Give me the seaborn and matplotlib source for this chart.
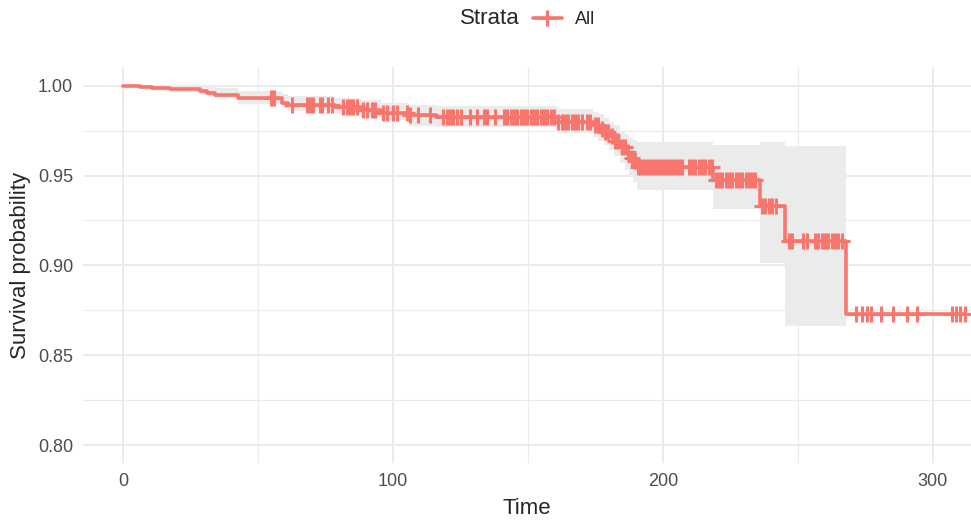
import matplotlib
matplotlib.use('Agg')

import numpy as np
import matplotlib.pyplot as plt
import seaborn as sns
from matplotlib.lines import Line2D
from matplotlib.ticker import FormatStrFormatter

# Kaplan-Meier steps (time, survival, 95% CI)
event_time = [0, 6.3, 10.7, 17.4, 28.5, 31, 34, 42.6, 59, 61, 78.5, 88, 95.5, 106, 116, 161,
              174, 176, 178, 180, 182, 184, 186, 187.5, 189, 190.5, 218.5, 236, 245.3, 267.7]
surv = [1.000, 0.9993, 0.9985, 0.9979, 0.9970, 0.9960, 0.9950, 0.9930, 0.9905, 0.9893,
        0.9880, 0.9865, 0.9847, 0.9836, 0.9825, 0.9800,
        0.9780, 0.9760, 0.9740, 0.9720, 0.9690, 0.9660, 0.9630, 0.9600, 0.9580, 0.9550,
        0.9475, 0.9330, 0.9135, 0.8730]
upper = [1.000, 1.000, 1.000, 1.000, 0.9995, 0.9990, 0.9985, 0.9970, 0.9955, 0.9945,
         0.9930, 0.9920, 0.9905, 0.9895, 0.9887, 0.9868,
         0.9855, 0.9840, 0.9820, 0.9800, 0.9780, 0.9750, 0.9730, 0.9710, 0.9695, 0.9687,
         0.9670, 0.9687, 0.9664, np.nan]
lower = [1.000, 0.9980, 0.9972, 0.9965, 0.9950, 0.9940, 0.9930, 0.9900, 0.9875, 0.9860,
         0.9840, 0.9825, 0.9810, 0.9775, 0.9768, 0.9735,
         0.9715, 0.9690, 0.9670, 0.9640, 0.9610, 0.9570, 0.9530, 0.9500, 0.9465, 0.9419,
         0.9313, 0.9013, 0.8662, np.nan]
last_time = 311.8

# censored observations
censor_time = [55.0, 56.0, 62.5, 68.0, 69.3, 70.5, 73.0, 73.6, 75.9, 77.3, 81.5, 82.9, 84.1, 85.2,
               86.6, 88.9, 90.3, 92.1, 93.3, 96.3, 97.7, 100.0, 101.4, 105.1, 106.3, 109.3,
               113.7, 118.5, 119.9, 121.1, 122.2, 123.7, 125.1, 128.5, 131.0, 133.7, 134.8,
               137.8, 141.1, 142.2, 143.6, 144.8, 145.9, 147.3, 148.5, 149.6, 151.0, 152.2,
               153.3, 154.7, 155.9, 157.0, 158.4, 159.6, 161.1, 162.5, 163.7, 164.8, 166.2,
               167.4, 168.5, 169.9, 171.7, 173.0, 174.8, 175.9, 177.3, 178.5, 179.6, 181.0,
               182.2, 183.3, 184.7, 185.9, 187.0, 188.4, 189.6, 190.7,
               191.5, 192.6, 193.7, 194.8, 195.9, 197.0, 198.1, 199.3, 200.4, 201.5, 202.6,
               203.7, 204.8, 205.9, 207.0, 209.6, 210.7, 211.9, 213.3, 214.4, 215.6, 217.0,
               218.1, 219.6, 220.7, 221.9, 223.3, 224.4, 225.6, 227.0, 228.1, 229.3, 230.7,
               231.9, 233.0, 234.1, 236.7, 237.8, 239.3, 240.4, 241.9, 246.7, 247.8, 251.9,
               253.3, 256.3, 257.4, 258.9, 260.0, 261.1, 262.6, 263.7, 264.8, 266.3,
               271.5, 273.6, 275.4, 276.9, 280.9, 285.2, 290.4, 294.1, 306.9, 308.5, 310.0, 311.8]

strata_label = 'All'
line_color = '#F8766D'

sns.set_style('white')
plt.rcParams['font.family'] = ['Liberation Sans', 'DejaVu Sans']

fig = plt.figure(figsize=(9.71, 5.2), dpi=100)
ax = fig.add_axes([83 / 971, 57 / 520, 888 / 971, 396 / 520])

# confidence band (the last CI is NA, so the band stops at the last event)
ok = ~np.isnan(upper)
band_t = list(np.array(event_time)[ok]) + [event_time[-1]]
band_lo = list(np.array(lower)[ok]) + [np.array(lower)[ok][-1]]
band_hi = list(np.array(upper)[ok]) + [np.array(upper)[ok][-1]]
ax.fill_between(band_t, band_lo, band_hi, step='post', color='#EBEBEB', lw=0, zorder=2)

# survival curve
line_t = event_time + [last_time]
line_s = surv + [surv[-1]]
sns.lineplot(x=line_t, y=line_s, drawstyle='steps-post', color=line_color, lw=2.6,
             estimator=None, ax=ax, zorder=3)

# censor marks sit on the curve
idx = np.searchsorted(event_time, censor_time, side='right') - 1
censor_s = np.array(surv)[idx]
ax.plot(censor_time, censor_s, ls='none', marker='+', ms=12, mew=2.2, color=line_color, zorder=4)

ax.set_xlim(-14.8, 314.1)
ax.set_ylim(0.79, 1.0104)
ax.set_xticks([0, 100, 200, 300])
ax.set_xticks([50, 150, 250], minor=True)
ax.set_yticks([0.80, 0.85, 0.90, 0.95, 1.00])
ax.set_yticks([0.825, 0.875, 0.925, 0.975], minor=True)
ax.yaxis.set_major_formatter(FormatStrFormatter('%.2f'))
ax.grid(which='major', color='#EBEBEB', lw=1.4, zorder=0)
ax.grid(which='minor', color='#EBEBEB', lw=0.8, zorder=0)
ax.set_axisbelow(True)
for s in ax.spines.values():
    s.set_visible(False)
ax.tick_params(which='major', length=3.6, width=1, color='#333333', labelcolor='#4D4D4D',
               labelsize=13, pad=3.5)
ax.tick_params(which='minor', length=0)

ax.set_xlabel('Time', fontsize=16, labelpad=6)
ax.set_ylabel('Survival probability', fontsize=16, labelpad=5)

# legend on top: title to the left of the key
fig.text(460 / 971, 1 - 19 / 520, 'Strata', fontsize=16, ha='left', va='center')
handle = Line2D([], [], color=line_color, lw=2.6, marker='+', ms=12, mew=2.2)
fig.legend(handles=[handle], labels=[strata_label], loc='center left',
           bbox_to_anchor=(533 / 971, 1 - 20 / 520), frameon=False, fontsize=13,
           handlelength=1.6, handletextpad=0.75, borderpad=0, borderaxespad=0)

fig.savefig('out.png', dpi=100)
